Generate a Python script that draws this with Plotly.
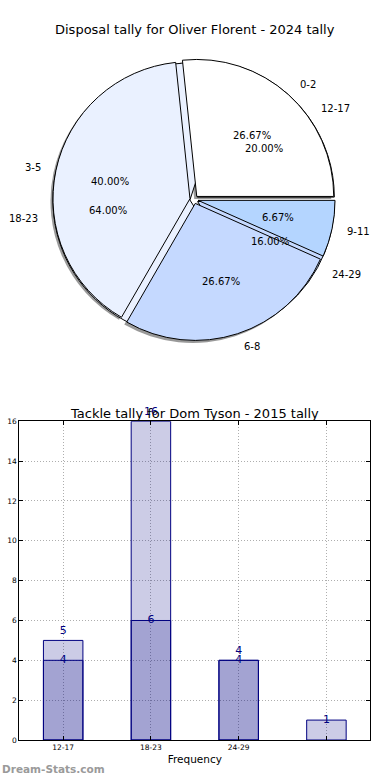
import math
import plotly.graph_objects as go

# ---------------- data ----------------
pie_title = "Disposal tally for Oliver Florent - 2024 tally"
bar_title = "Tackle tally for Dom Tyson - 2015 tally"

disposal_labels = ["0-2", "3-5", "6-8", "9-11"]
disposal_values = [4, 6, 4, 1]

tackle_labels = ["12-17", "18-23", "24-29"]
tackle_values = [5, 16, 4]

bar_tick_labels = ["12-17", "18-23", "24-29"]
y_tick_values = [0, 2, 4, 6, 8, 10, 12, 14, 16]
x_axis_title = "Frequency"
watermark = "Dream-Stats.com"

# ---------------- style / layout ----------------
W, H = 390, 780
FONT = "DejaVu Sans"
slice_colors = ["#ffffff", "#eaf1ff", "#c5d9ff", "#b4d5ff"]
bar_fill = "rgba(0,0,128,0.2)"
navy = "#000080"

# pie geometry (pixels)
cx, cy, r = 194.0, 199.5, 137.0
pull = 0.03
half = r * (1 + pull)


def pie_domain(dx=0.0, dy=0.0):
    return dict(
        x=[(cx + dx - half) / W, (cx + dx + half) / W],
        y=[1 - (cy + dy + half) / H, 1 - (cy + dy - half) / H],
    )


def pie_trace(labels, values, colors, line, dom):
    # slices run counter-clockwise from 3 o'clock: feed them reversed,
    # clockwise, starting at 3 o'clock
    n = len(values)
    return go.Pie(
        values=values[::-1], labels=labels[::-1],
        sort=False, direction="clockwise", rotation=90,
        pull=[pull] * n,
        marker=dict(colors=colors[:n][::-1], line=line),
        textinfo="none", hoverinfo="skip", showlegend=False,
        domain=dom,
    )


fig = go.Figure()

# shadow
fig.add_trace(pie_trace([l + " " for l in disposal_labels], disposal_values,
                        ["rgba(70,70,70,0.55)"] * len(disposal_values),
                        dict(width=0), pie_domain(-2.5, 2.5)))
# second pie (underneath)
fig.add_trace(pie_trace(tackle_labels, tackle_values, slice_colors,
                        dict(color="black", width=1), pie_domain()))
# first pie (on top)
fig.add_trace(pie_trace(disposal_labels, disposal_values, slice_colors,
                        dict(color="black", width=1), pie_domain()))

annotations = []


def pie_annotations(labels, values):
    total = float(sum(values))
    start = 0.0
    for lab, v in zip(labels, values):
        frac = v / total
        mid = 2 * math.pi * (start + frac / 2)
        start += frac
        c, s = math.cos(mid), math.sin(mid)
        ox = cx + pull * r * c
        oy = cy - pull * r * s
        lx, ly = ox + 1.1 * r * c, oy - 1.1 * r * s
        px, py = ox + 0.6 * r * c, oy - 0.6 * r * s
        annotations.append(dict(
            x=lx / W, y=1 - ly / H, xref="paper", yref="paper", text=lab,
            showarrow=False, xanchor="left" if c >= 0 else "right",
            yanchor="middle", font=dict(family=FONT, size=10, color="black")))
        annotations.append(dict(
            x=px / W, y=1 - py / H, xref="paper", yref="paper",
            text="%.2f%%" % (frac * 100), showarrow=False,
            xanchor="center", yanchor="middle",
            font=dict(family=FONT, size=10, color="black")))


pie_annotations(disposal_labels, disposal_values)
pie_annotations(tackle_labels, tackle_values)

# ---------------- bar chart ----------------
x_light = list(range(len(tackle_values)))
x_dark = list(range(len(disposal_values)))

fig.add_trace(go.Bar(
    x=x_light, y=tackle_values, width=0.45,
    marker=dict(color=bar_fill, line=dict(color=navy, width=1)),
    text=[str(v) for v in tackle_values], textposition="outside",
    textfont=dict(family=FONT, size=11, color=navy),
    cliponaxis=False, hoverinfo="skip", showlegend=False,
    xaxis="x", yaxis="y",
))
fig.add_trace(go.Bar(
    x=x_dark, y=disposal_values, width=0.45,
    marker=dict(color=bar_fill, line=dict(color=navy, width=1)),
    hoverinfo="skip", showlegend=False, xaxis="x", yaxis="y",
))
fig.add_trace(go.Scatter(
    x=x_dark, y=disposal_values, mode="text",
    text=[str(v) for v in disposal_values], textposition="middle center",
    textfont=dict(family=FONT, size=11, color=navy),
    cliponaxis=False, hoverinfo="skip", showlegend=False,
    xaxis="x", yaxis="y",
))

n_pos = len(disposal_values)
tick_text = bar_tick_labels + [""] * (n_pos - len(bar_tick_labels))

x0, x1 = 19.3, 370.3
y_top, y_bot = 421.3, 740.0

axis_common = dict(
    showline=True, linecolor="black", linewidth=1, mirror="ticks",
    ticks="inside", ticklen=4, tickcolor="black",
    showgrid=True, gridcolor="rgba(120,120,120,0.6)", griddash="1px,2px",
    gridwidth=1, zeroline=False, automargin=False,
    tickfont=dict(family=FONT, size=7.5, color="black"),
)

fig.update_layout(
    width=W, height=H, autosize=False,
    margin=dict(l=0, r=0, t=0, b=0),
    paper_bgcolor="white", plot_bgcolor="white",
    barmode="overlay",
    xaxis=dict(
        domain=[x0 / W, x1 / W], range=[-0.5, n_pos - 0.5],
        tickmode="array", tickvals=list(range(n_pos)), ticktext=tick_text,
        title=dict(text=x_axis_title, standoff=4,
                   font=dict(family=FONT, size=10.5, color="black")),
        **axis_common,
    ),
    yaxis=dict(
        domain=[1 - y_bot / H, 1 - y_top / H], range=[0, 16],
        tickmode="array", tickvals=y_tick_values,
        **axis_common,
    ),
)

annotations.append(dict(
    x=0.5, y=1 - 30 / H, xref="paper", yref="paper", text=pie_title,
    showarrow=False, xanchor="center", yanchor="middle",
    font=dict(family=FONT, size=13, color="black")))
annotations.append(dict(
    x=(x0 + x1) / 2 / W, y=1 - 413 / H, xref="paper", yref="paper",
    text=bar_title, showarrow=False, xanchor="center", yanchor="middle",
    font=dict(family=FONT, size=13, color="black")))
annotations.append(dict(
    x=0, y=1 - 769 / H, xref="paper", yref="paper", text="<b>" + watermark + "</b>",
    showarrow=False, xanchor="left", yanchor="middle",
    font=dict(family=FONT, size=10.5, color="#9a9a9a")))

fig.update_layout(annotations=annotations)

fig.write_html(
    "out.html",
    config={"displayModeBar": False, "staticPlot": True},
    post_script="document.body.style.margin='0px';document.body.style.overflow='hidden';",
)
